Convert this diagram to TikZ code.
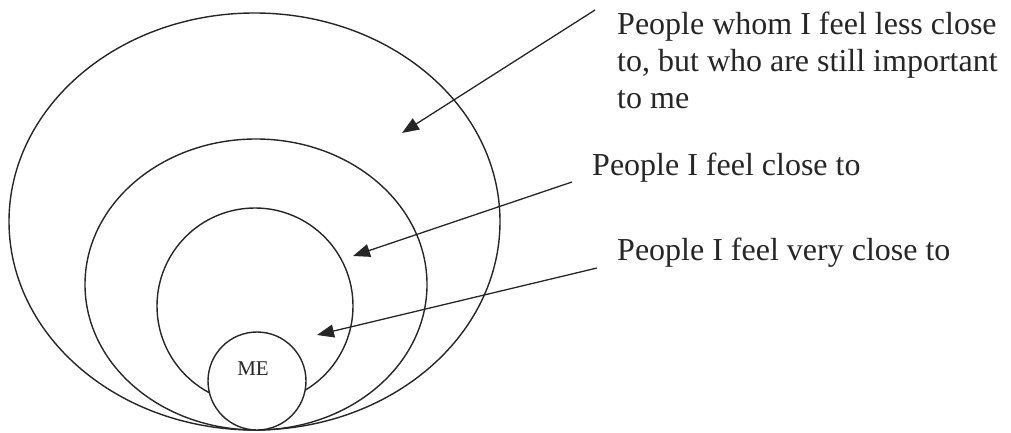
\documentclass[tikz,border=0pt]{standalone}
\usepackage{fontspec}
\setmainfont{Liberation Serif}
\usetikzlibrary{shapes.geometric,arrows.meta}
\begin{document}
\begin{tikzpicture}[x=1pt,y=-1pt,
  ring/.style={draw=black!85,line width=1.4pt,ellipse,inner sep=0pt},
  pointer/.style={draw=black!85,line width=1.3pt,-{Triangle[length=17pt,width=13pt]}},
  lbl/.style={inner sep=0pt,text=black!85,font=\fontsize{32}{37}\selectfont,align=left}]
\useasboundingbox (0,0) rectangle (1011,433);
% rings
\node[ring,minimum width=491pt,minimum height=417pt] (outer) at (254.5,221.5) {};
\node[ring,minimum width=342pt,minimum height=291pt] (mid) at (256,284.5) {};
\node[ring,minimum width=196pt,minimum height=196pt] (inner) at (255,306) {};
\node[ring,circle,fill=white,minimum size=98pt] (me) at (257,381) {};
\node[inner sep=0pt,anchor=base,text=black!85,font=\fontsize{21}{24}\selectfont] (metext) at (253,375) {ME};
% labels
\node[lbl,anchor=north west] (l1) at (617,12) {People whom I feel less close\\to, but who are still important\\to me};
\node[lbl,anchor=base west] (l2) at (592,175) {People I feel close to};
\node[lbl,anchor=base west] (l3) at (617,260) {People I feel very close to};
% arrow ends
\coordinate (s1) at (595,10);
\coordinate (t1) at (402,133);
\coordinate (s2) at (572,182);
\coordinate (t2) at (353,256);
\coordinate (s3) at (597,268);
\coordinate (t3) at (317,335);
\draw[pointer] (s1) -- (t1);
\draw[pointer] (s2) -- (t2);
\draw[pointer] (s3) -- (t3);
\end{tikzpicture}
\end{document}
